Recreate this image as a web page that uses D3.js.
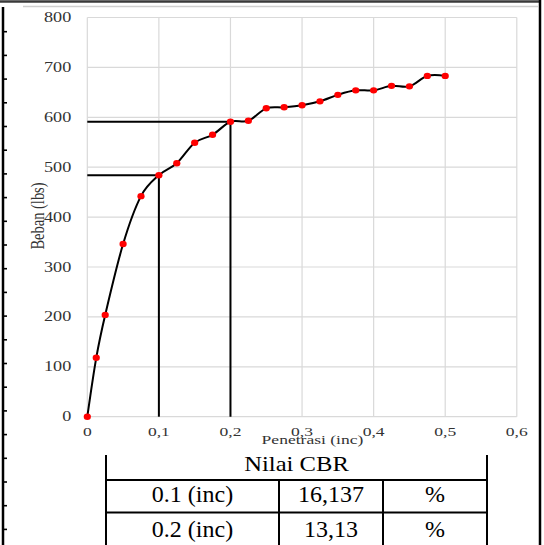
<!DOCTYPE html>
<html>
<head>
<meta charset="utf-8">
<script src="https://cdn.jsdelivr.net/npm/d3@7"></script>
<style>
  html, body { margin: 0; padding: 0; background: #fff; }
  svg { display: block; }
</style>
</head>
<body>
<svg id="chart" width="544" height="545"></svg>
<script>
// ---- Data ----
const penetrasi = [0, 0.0125, 0.025, 0.05, 0.075, 0.1, 0.125, 0.15, 0.175, 0.2, 0.225,
                   0.25, 0.275, 0.3, 0.325, 0.35, 0.375, 0.4, 0.425, 0.45, 0.475, 0.5];
const beban = [0, 118, 204, 346, 442, 484, 508, 549, 565, 591, 593,
               618, 620, 624, 632, 645, 654, 654, 663, 662, 683, 683];
const xTicks = [0, 0.1, 0.2, 0.3, 0.4, 0.5, 0.6];
const yTicks = [0, 100, 200, 300, 400, 500, 600, 700, 800];
const refX = [0.1, 0.2];
const refY = [484, 591];
const xTitle = "Penetrasi (inc)";
const yTitle = "Beban (lbs)";
const tableTitle = "Nilai CBR";
const tableLabels = ["0.1 (inc)", "0.2 (inc)"];
const tableValues = ["16,137", "13,13"];
const tableUnits = ["%", "%"];

(function () {
// ---- Layout ----
const svg = d3.select("#chart");
const pL = 87.3, pR = 516.8, pT = 17.5, pB = 416.7;
const stretch = 1.3;
const serif = "'Liberation Serif', 'Times New Roman', serif";
const labelColor = "#333333";

const x = d3.scaleLinear().domain([0, 0.6]).range([pL, pR]);
const y = d3.scaleLinear().domain([0, 800]).range([pB, pT]);

// ---- decorative page frame (remnants of surrounding document table) ----
const frame = svg.append("g");
frame.append("line").attr("x1", 0).attr("x2", 539).attr("y1", 1.5).attr("y2", 1.5)
  .attr("stroke", "#3a3a3a").attr("stroke-width", 2.5);
frame.append("line").attr("x1", 23).attr("x2", 538).attr("y1", 6.5).attr("y2", 6.5)
  .attr("stroke", "#cfcfcf").attr("stroke-width", 1.5);
frame.append("line").attr("x1", 540).attr("x2", 540).attr("y1", 0).attr("y2", 545)
  .attr("stroke", "#000").attr("stroke-width", 2.5);
frame.append("line").attr("x1", 3).attr("x2", 3).attr("y1", 7).attr("y2", 545)
  .attr("stroke", "#000").attr("stroke-width", 2.5);
frame.selectAll("line.tk").data(d3.range(22)).enter().append("line").attr("class", "tk")
  .attr("x1", 3).attr("x2", 7)
  .attr("y1", i => 31.7 + i * 23.7).attr("y2", i => 31.7 + i * 23.7)
  .attr("stroke", "#000").attr("stroke-width", 1.6);

// ---- grid ----
const grid = svg.append("g");
grid.selectAll("line.gx").data(xTicks).enter().append("line").attr("class", "gx")
  .attr("x1", d => x(d)).attr("x2", d => x(d)).attr("y1", pT).attr("y2", pB)
  .attr("stroke", "#d9d9d9").attr("stroke-width", 1.2);
grid.selectAll("line.gy").data(yTicks).enter().append("line").attr("class", "gy")
  .attr("x1", pL).attr("x2", pR).attr("y1", d => y(d)).attr("y2", d => y(d))
  .attr("stroke", "#d9d9d9").attr("stroke-width", 1.2);

// ---- tick labels (horizontally stretched like the original picture) ----
const loc = d3.formatLocale({decimal: ",", thousands: ".", grouping: [3], currency: ["", ""]});
const fx = loc.format("~g");

svg.append("g").selectAll("text").data(xTicks).enter().append("text")
  .attr("transform", d => `translate(${x(d)},${pB + 19.5}) scale(${stretch},1)`)
  .attr("text-anchor", "middle").attr("font-family", serif).attr("font-size", 13.5)
  .attr("fill", labelColor).text(d => fx(d));

svg.append("g").selectAll("text").data(yTicks).enter().append("text")
  .attr("transform", d => `translate(${pL - 16},${y(d) + 4.5}) scale(${stretch},1)`)
  .attr("text-anchor", "end").attr("font-family", serif).attr("font-size", 14)
  .attr("fill", labelColor).text(d => d);

svg.append("text").attr("transform", `translate(312.5,444) scale(${stretch},1)`)
  .attr("text-anchor", "middle").attr("font-family", serif).attr("font-size", 13.5)
  .attr("fill", labelColor).text(xTitle);
svg.append("text").attr("transform", `translate(43.5,216) scale(${stretch},1) rotate(-90)`)
  .attr("text-anchor", "middle").attr("font-family", serif).attr("font-size", 14.5)
  .attr("fill", labelColor).text(yTitle);

// ---- reference lines ----
const ref = svg.append("g");
refX.forEach((rx, i) => {
  ref.append("line").attr("x1", x(0)).attr("x2", x(rx)).attr("y1", y(refY[i])).attr("y2", y(refY[i]))
    .attr("stroke", "#000").attr("stroke-width", 2);
  ref.append("line").attr("x1", x(rx)).attr("x2", x(rx)).attr("y1", y(refY[i])).attr("y2", y(0))
    .attr("stroke", "#000").attr("stroke-width", 2);
});

// ---- series ----
const pts = penetrasi.map((p, i) => [p, beban[i]]);
const line = d3.line().x(d => x(d[0])).y(d => y(d[1])).curve(d3.curveCardinal.tension(0));
svg.append("path").attr("d", line(pts)).attr("fill", "none")
  .attr("stroke", "#000").attr("stroke-width", 2);
svg.selectAll("ellipse.pt").data(pts).enter().append("ellipse").attr("class", "pt")
  .attr("cx", d => x(d[0])).attr("cy", d => y(d[1])).attr("rx", 3.6).attr("ry", 3.2)
  .attr("fill", "#ff0000");

// ---- CBR table ----
const tL = 106, tR = 487, c1 = 279, c2 = 383, tTop = 455, r1 = 480, r2 = 512.5, tBot = 545;
const tbl = svg.append("g").attr("stroke", "#000").attr("stroke-width", 2);
[tL, tR].forEach(v => tbl.append("line").attr("x1", v).attr("x2", v).attr("y1", tTop).attr("y2", tBot));
[c1, c2].forEach(v => tbl.append("line").attr("x1", v).attr("x2", v).attr("y1", r1).attr("y2", tBot));
[r1, r2].forEach(v => tbl.append("line").attr("x1", tL).attr("x2", tR).attr("y1", v).attr("y2", v));

const tt = svg.append("g").attr("font-family", serif).attr("fill", "#000").attr("text-anchor", "middle");
tt.append("text").attr("transform", `translate(${(tL + tR) / 2},471) scale(1.12,1)`)
  .attr("font-size", 22).text(tableTitle);
const rowBase = [502, 537];
tableLabels.forEach((lab, i) => {
  tt.append("text").attr("x", (tL + c1) / 2).attr("y", rowBase[i]).attr("font-size", 24).text(lab);
  tt.append("text").attr("x", (c1 + c2) / 2).attr("y", rowBase[i]).attr("font-size", 24).text(tableValues[i]);
  tt.append("text").attr("x", (c2 + tR) / 2).attr("y", rowBase[i]).attr("font-size", 24).text(tableUnits[i]);
});
})();
</script>
</body>
</html>
